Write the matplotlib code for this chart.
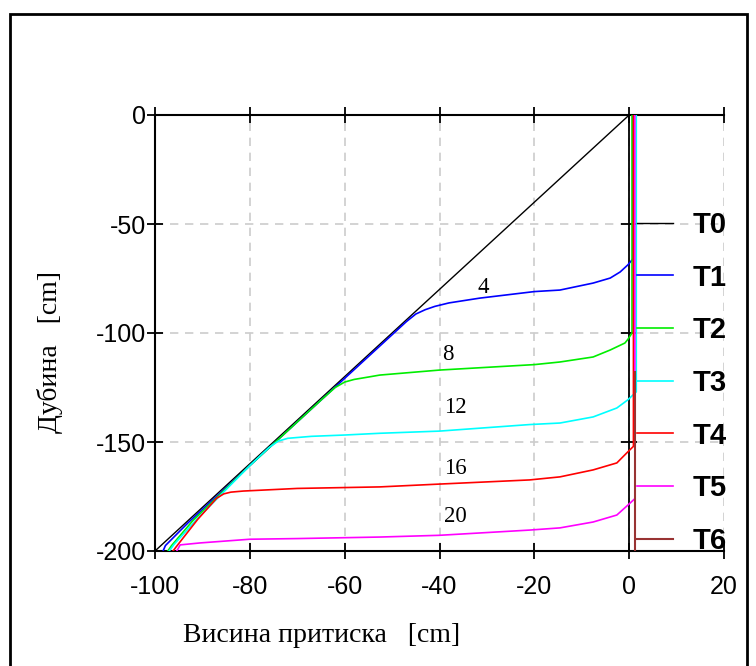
import numpy as np
import matplotlib.pyplot as plt
from matplotlib.patches import Rectangle

plt.rcParams['axes.unicode_minus'] = False
plt.rcParams['font.family'] = ['Liberation Sans', 'DejaVu Sans']

# pressure head profiles (x = pressure head [cm], y = depth [cm])
t0_x = [-100, -80, -60, -40, -20, 0]
t0_y = [-200, -160, -120, -80, -40, 0]

t1_x = [-98.3, -97.8, -93, -80, -60, -50, -47, -45, -43, -41, -38, -31.5, -20, -14.6, -7.6, -4, -1.9, -0.3, 0.8, 0.8]
t1_y = [-200, -197.5, -187, -160.8, -120.8, -100.8, -94.8, -91.3, -89.3, -87.8, -86.2, -84, -81, -80.3, -77.1, -74.8, -72, -68.8, -66, 0]

t2_x = [-97.3, -96.5, -92, -80, -65, -62, -60, -58, -55, -52.6, -40, -20, -14.6, -7.6, -4, -0.9, -0.3, 0.6, 0.6]
t2_y = [-200, -197.5, -186, -160.8, -130.8, -125, -122.5, -121.3, -120.2, -119.3, -117, -114.5, -113.3, -111, -107.8, -104.6, -103, -100, 0]

t3_x = [-97, -96, -91, -80, -76, -74, -72, -67, -60, -52.6, -40, -21, -14.6, -7.6, -2.6, -0.3, 1.5, 1.5]
t3_y = [-200, -197, -185, -160.8, -152.6, -149.6, -148.3, -147.4, -146.8, -146, -145, -142, -141.3, -138.5, -134.4, -130.7, -127, 0]

t4_x = [-96.2, -95.5, -91, -87, -85.5, -84, -81.4, -70, -52.6, -40, -21, -14.6, -7.6, -2.6, -0.5, 0.9, 0.9]
t4_y = [-200, -198, -185.5, -175.8, -173.8, -173, -172.5, -171.3, -170.6, -169.3, -167.4, -166, -162.8, -159.6, -155, -152, 0]

t5_x = [-95.4, -94.7, -90.5, -80, -70, -52.6, -40, -21, -14.6, -7.6, -2.6, -0.3, 1.2, 1.2]
t5_y = [-200, -197.2, -196.3, -194.6, -194.3, -193.6, -192.8, -190.4, -189.4, -186.7, -183.5, -179, -176, 0]

t6_x = [1.2, 1.2]
t6_y = [-200, -118]

series = [
    ('T0', t0_x, t0_y, 'black', 1.0),
    ('T1', t1_x, t1_y, '#0000ff', 1.2),
    ('T2', t2_x, t2_y, '#00ee00', 1.2),
    ('T3', t3_x, t3_y, '#00ffff', 1.2),
    ('T4', t4_x, t4_y, '#ff0000', 1.2),
    ('T5', t5_x, t5_y, '#ff00ff', 1.2),
    ('T6', t6_x, t6_y, '#993333', 1.5),
]

# time labels on the curves
ann_text = ['4', '8', '12', '16', '20']
ann_x = [-30.8, -38.2, -36.7, -36.7, -36.7]
ann_y = [-79, -110, -134.4, -162, -184.4]

fig = plt.figure(figsize=(7.56, 6.66), dpi=100)
ax = fig.add_axes([155 / 756, 1 - 551 / 666, 569 / 756, 436 / 666])

# zero line with its own ticks
ax.axvline(0, color='black', lw=1.3, zorder=2)
ax.plot([0, 0, 0], [-50, -100, -150], ls='none', marker='_', ms=11, mew=1.3,
        color='black', zorder=2)

handles = []
for name, xs, ys, col, lw in series:
    h, = ax.plot(xs, ys, color=col, lw=lw, label=name, zorder=3)
    handles.append(h)

for t, x, y in zip(ann_text, ann_x, ann_y):
    ax.text(x, y, t, family='Liberation Serif', fontsize=16.5, ha='center', va='center')

ax.set_xlim(-100, 20)
ax.set_ylim(-200, 0)
ax.set_xticks(np.arange(-100, 21, 20))
ax.set_yticks(np.arange(-200, 1, 50))
ax.grid(True, color='#cccccc', ls=(0, (5, 4)), lw=1.2)
ax.set_axisbelow(True)

ax.spines['right'].set_visible(False)
for s in ['left', 'top', 'bottom']:
    ax.spines[s].set_linewidth(1.5)
ax.tick_params(axis='both', direction='inout', length=11, width=1.3, labelsize=18, pad=1)
ax.tick_params(axis='x', top=True, pad=12)

leg = ax.legend(handles=handles, loc='upper left', bbox_to_anchor=(0.847, 0.780),
                frameon=False, borderpad=0, borderaxespad=0,
                handlelength=1.23, handletextpad=0.68, labelspacing=0.845,
                prop={'family': 'Liberation Sans', 'weight': 'bold', 'size': 21})

fig.text(322 / 756, 1 - 636 / 666, 'Висина притиска   [cm]', family='Liberation Serif',
         fontsize=20, ha='center', va='center')
fig.text(50 / 756, 1 - 352 / 666, 'Дубина   [cm]', family='Liberation Serif',
         fontsize=20, ha='center', va='center', rotation=90)

# outer frame
fig.patches.append(Rectangle((10 / 756, -0.01), 737 / 756, 1.01 - 14 / 666,
                             transform=fig.transFigure, fill=False, lw=2, color='black'))

fig.savefig('out.png', dpi=100)
